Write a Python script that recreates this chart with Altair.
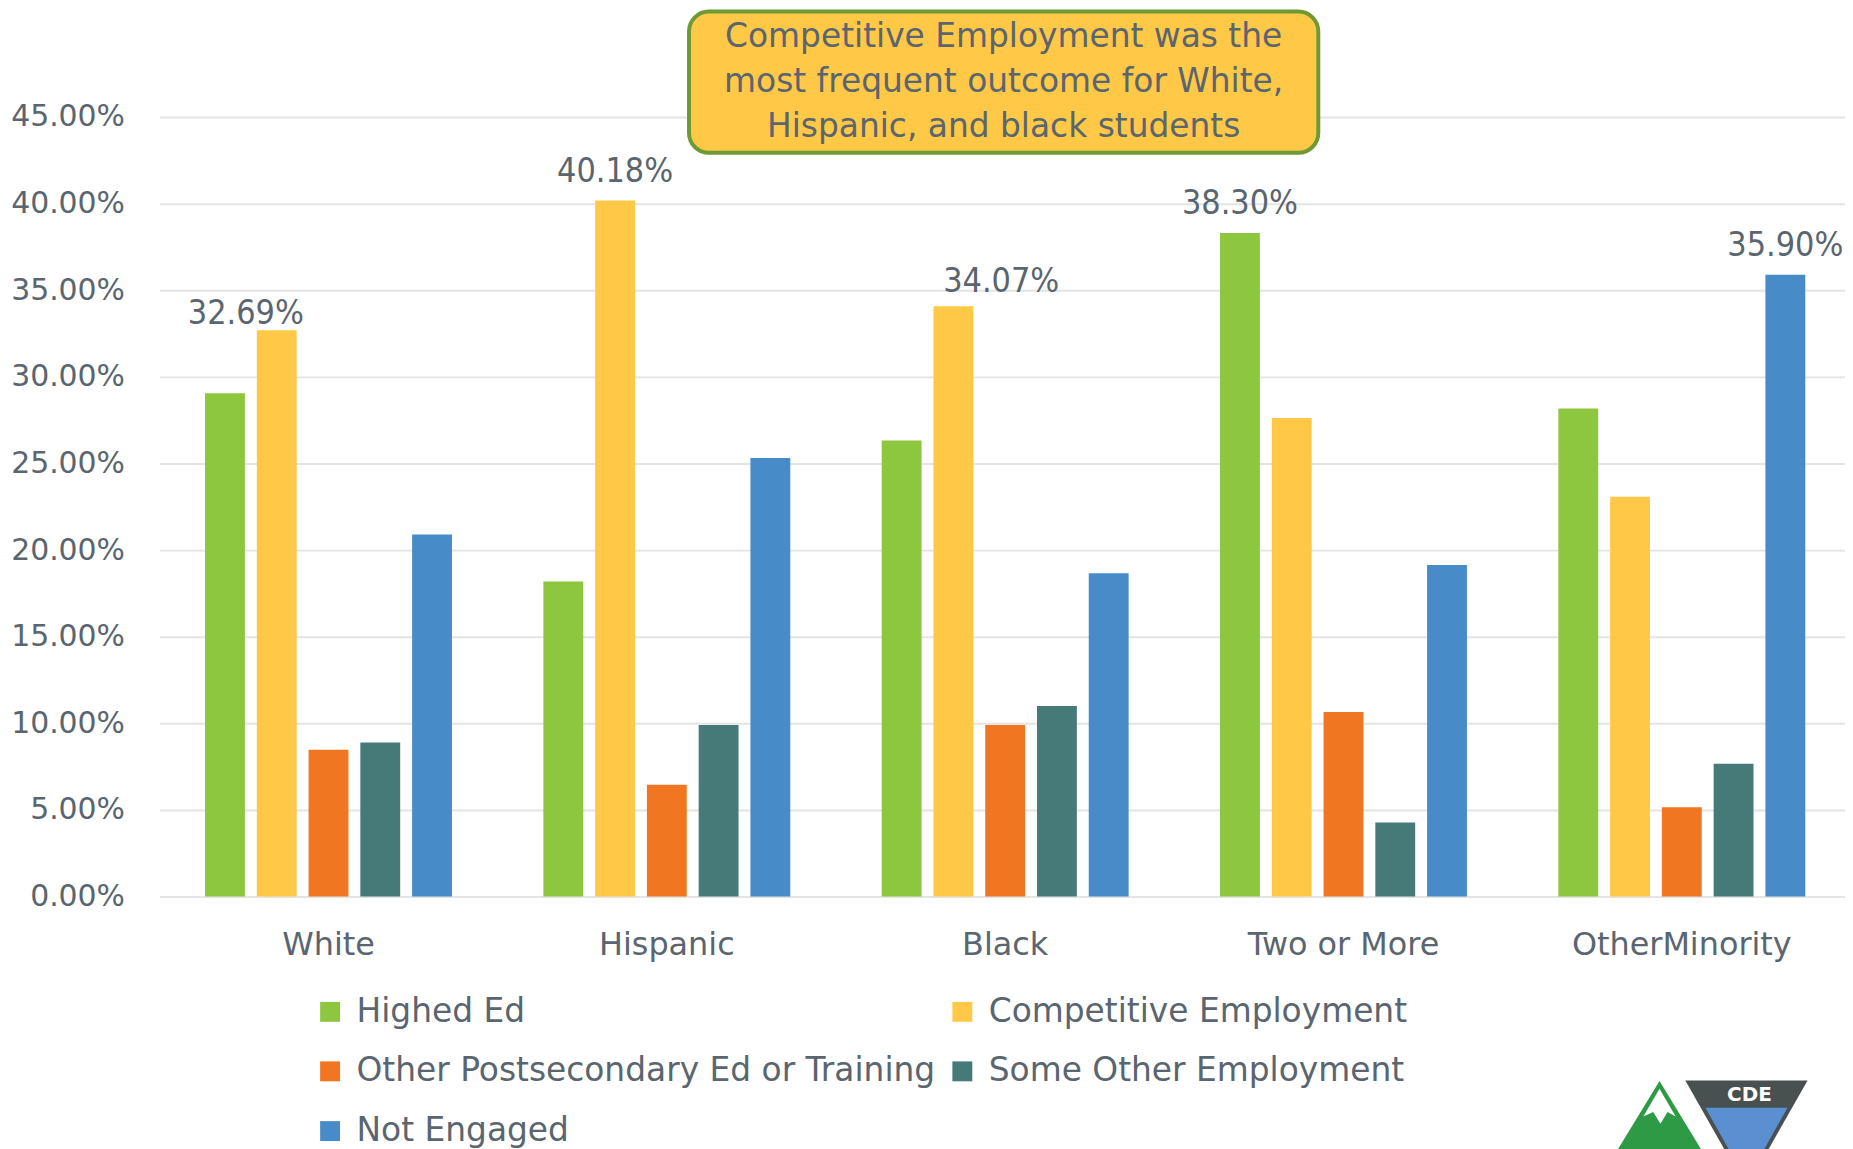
import altair as alt
import pandas as pd

# ---------------- data ----------------
categories = ["White", "Hispanic", "Black", "Two or More", "OtherMinority"]
series = [
    "Highed Ed",
    "Competitive Employment",
    "Other Postsecondary Ed or Training",
    "Some Other Employment",
    "Not Engaged",
]
higher_ed = [29.05, 18.19, 26.33, 38.30, 28.17]
competitive = [32.69, 40.18, 34.07, 27.62, 23.08]
other_post = [8.48, 6.45, 9.91, 10.66, 5.16]
some_other = [8.89, 9.91, 11.00, 4.28, 7.67]
not_engaged = [20.90, 25.32, 18.66, 19.14, 35.90]
y_ticks = [0, 5, 10, 15, 20, 25, 30, 35, 40, 45]
callout_lines = [
    "Competitive Employment was the",
    "most frequent outcome for White,",
    "Hispanic, and black students",
]

# ---------------- style ----------------
colors = ["#8dc63f", "#ffc846", "#f07622", "#457a78", "#478bc8"]
TEXT = "#5a6570"
FONT = "DejaVu Sans"
NUM_FONT = "DejaVu Sans Condensed, DejaVu Sans"
label_nudges = {"White": (-31, -6), "Black": (48, -14)}  # (dx, dy) manual label moves
default_label_dy = -19

values_by_series = [higher_ed, competitive, other_post, some_other, not_engaged]
rows = []
for s, vals in zip(series, values_by_series):
    for c, v in zip(categories, vals):
        rows.append({"category": c, "series": s, "value": v})
df = pd.DataFrame(rows)

x_enc = alt.X(
    "category:N",
    sort=categories,
    title=None,
    scale=alt.Scale(range=[0, 1699], paddingInner=0.235, paddingOuter=0.1175),
    axis=alt.Axis(
        labelFontSize=32, labelFont=FONT, labelColor=TEXT, labelPadding=33,
        ticks=False, tickSize=0, domain=False, grid=False, labelAngle=0,
        labelLimit=500,
    ),
)
xoff_enc = alt.XOffset(
    "series:N", sort=series, scale=alt.Scale(paddingInner=0.23, paddingOuter=0.115)
)
y_enc = alt.Y(
    "value:Q",
    title=None,
    scale=alt.Scale(domain=[0, 45], nice=False),
    axis=alt.Axis(
        values=y_ticks,
        labelExpr="format(datum.value, '.2f') + '%'",
        labelFontSize=30, labelFont=FONT, labelColor=TEXT, labelPadding=35,
        ticks=False, tickSize=0, domain=False,
        grid=True, gridColor="#e4e4e4", gridWidth=2,
    ),
)
color_enc = alt.Color(
    "series:N",
    sort=series,
    scale=alt.Scale(domain=series, range=colors),
    legend=alt.Legend(
        title=None, orient="none", legendX=155, legendY=882,
        direction="horizontal", columns=2, columnPadding=10, rowPadding=26,
        symbolType="square", symbolSize=400, symbolStrokeWidth=0,
        labelFontSize=33, labelFont=FONT, labelColor=TEXT,
        labelOffset=10, labelLimit=1000, padding=0,
    ),
)

base = alt.Chart(df)
bars = base.mark_bar().encode(x=x_enc, xOffset=xoff_enc, y=y_enc, color=color_enc)

lab_base = (
    base.transform_joinaggregate(maxv="max(value)", groupby=["category"])
    .transform_filter("datum.value == datum.maxv")
    .transform_calculate(label="format(datum.value, '.2f') + '%'")
)
nudged = list(label_nudges.keys())
label_layers = [
    lab_base.transform_filter(
        alt.FieldOneOfPredicate(field="category", oneOf=[c for c in categories if c not in nudged])
    )
    .mark_text(font=NUM_FONT, fontSize=34, color=TEXT, baseline="alphabetic", dy=default_label_dy)
    .encode(x=x_enc, xOffset=xoff_enc, y=y_enc, text="label:N")
]
for cat, (dx, dy) in label_nudges.items():
    label_layers.append(
        lab_base.transform_filter(alt.FieldEqualPredicate(field="category", equal=cat))
        .mark_text(font=NUM_FONT, fontSize=34, color=TEXT, baseline="alphabetic", dx=dx, dy=dy)
        .encode(x=x_enc, xOffset=xoff_enc, y=y_enc, text="label:N")
    )

one = pd.DataFrame({"k": [0]})
callout_box = alt.Chart(one).mark_rect(
    fill="#ffc846", stroke="#6e9a33", strokeWidth=4, cornerRadius=20
).encode(x=alt.value(532), x2=alt.value(1164), y=alt.value(-106), y2=alt.value(36))
callout_text = alt.Chart(one).mark_text(
    text=callout_lines, font=FONT, fontSize=33, color=TEXT,
    align="center", baseline="middle", lineHeight=45,
).encode(x=alt.value(848), y=alt.value(-80))

# ---------------- logo (decoration) ----------------
logo_green = alt.Chart(one).mark_point(
    shape="M0,-1L1.22,1L-1.22,1Z", size=11378, filled=True, fill="#2e9a45", opacity=1, strokeWidth=0
).encode(x=alt.value(1506.7), y=alt.value(1021.6))
logo_snow = alt.Chart(one).mark_point(
    shape="M0,-1L0.9,0.55L0.45,0.3L0.05,0.95L-0.35,0.3L-0.9,0.55Z", size=1300, filled=True,
    fill="#ffffff", opacity=1, strokeWidth=0,
).encode(x=alt.value(1506.7), y=alt.value(994))
logo_shield = alt.Chart(one).mark_point(
    shape="M-0.99,-0.6L0.99,-0.6L0.08,1L-0.08,1Z", size=15376, filled=True,
    fill="#48514f", opacity=1, strokeWidth=0,
).encode(x=alt.value(1594), y=alt.value(1005))
logo_blue = alt.Chart(one).mark_point(
    shape="M-1.03,-0.75L1.03,-0.75L0.05,1L-0.05,1Z", size=6400, filled=True,
    fill="#5a8fd2", opacity=1, strokeWidth=0,
).encode(x=alt.value(1594), y=alt.value(1025))
logo_text = alt.Chart(one).mark_text(
    text="CDE", font=FONT, fontSize=20, fontWeight="bold", color="#ffffff",
    align="center", baseline="middle",
).encode(x=alt.value(1597), y=alt.value(982))

chart = (
    alt.layer(
        bars, *label_layers, callout_box, callout_text,
        logo_green, logo_snow, logo_shield, logo_blue, logo_text,
    )
    .properties(
        width=1685,
        height=783,
        padding={"left": 152, "top": 107, "right": 8, "bottom": 251},
        autosize=alt.AutoSizeParams(type="none"),
        background="#ffffff",
    )
    .configure_view(strokeWidth=0)
)

chart.save("out.html", embed_options={"renderer": "svg", "actions": False})
